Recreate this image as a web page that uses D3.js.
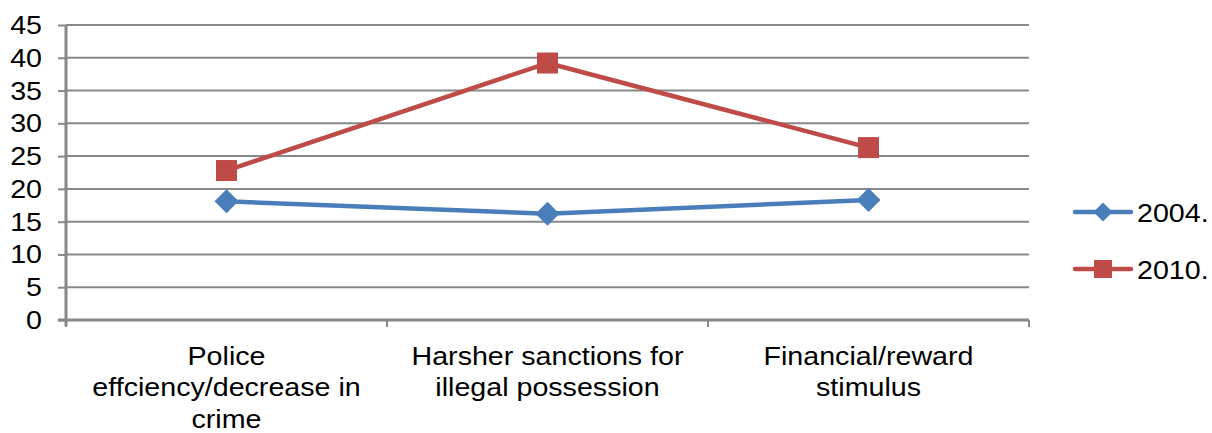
<!DOCTYPE html>
<html>
<head>
<meta charset="utf-8">
<script src="https://cdn.jsdelivr.net/npm/d3@7"></script>
<style>
  html, body { margin: 0; padding: 0; background: #fff; }
  svg text { font-family: "Liberation Sans", Arial, sans-serif; fill: #000; }
</style>
</head>
<body>
<svg id="chart" width="1212" height="433"></svg>
<script>
// Survey categories and per-year percentages
const categories = [
  ["Police", "effciency/decrease in", "crime"],
  ["Harsher sanctions for", "illegal possession"],
  ["Financial/reward", "stimulus"]
];
const years = ["2004.", "2010."];
const values2004 = [18.1, 16.2, 18.3];
const values2010 = [22.8, 39.2, 26.3];
const yTicks = [0, 5, 10, 15, 20, 25, 30, 35, 40, 45];

const colors = ["#4A7EBB", "#BE4B48"];
const series = [
  { name: years[0], values: values2004, color: colors[0], marker: "diamond" },
  { name: years[1], values: values2010, color: colors[1], marker: "square" }
];

const svg = d3.select("#chart");
const plotLeft = 66, plotRight = 1029, plotTop = 25, plotBottom = 320;
const fontSize = 26.5, stretch = 1.08;

const x = d3.scaleBand().domain(d3.range(categories.length)).range([plotLeft, plotRight]);
const y = d3.scaleLinear().domain([0, 45]).range([plotBottom, plotTop]);

// Horizontal gridlines
svg.append("g").selectAll("line").data(yTicks.filter(d => d > 0)).join("line")
  .attr("x1", plotLeft).attr("x2", plotRight)
  .attr("y1", d => y(d)).attr("y2", d => y(d))
  .attr("stroke", "#888").attr("stroke-width", 2);

// Y axis
const yAxis = svg.append("g").attr("transform", `translate(${plotLeft},0)`)
  .call(d3.axisLeft(y).tickValues(yTicks).tickSize(8).tickPadding(16));
yAxis.select(".domain").attr("stroke", "#888").attr("stroke-width", 3)
  .attr("d", `M0,${plotBottom + 6}V${plotTop}`);
yAxis.selectAll(".tick line").attr("stroke", "#888").attr("stroke-width", 2);
yAxis.selectAll(".tick text")
  .attr("font-size", fontSize).attr("fill", "#000")
  .attr("x", -24 / stretch)
  .attr("transform", `scale(${stretch},1)`)
  .style("font-family", '"Liberation Sans", Arial, sans-serif');

// X axis
svg.append("line").attr("x1", plotLeft - 8).attr("x2", plotRight)
  .attr("y1", plotBottom).attr("y2", plotBottom)
  .attr("stroke", "#888").attr("stroke-width", 3);
const xBounds = d3.range(categories.length + 1).map(i => plotLeft + i * x.bandwidth());
svg.append("g").selectAll("line").data(xBounds).join("line")
  .attr("x1", d => d).attr("x2", d => d)
  .attr("y1", plotBottom).attr("y2", plotBottom + 7)
  .attr("stroke", "#888").attr("stroke-width", 2);

// Category labels (multi-line)
const cx = i => x(i) + x.bandwidth() / 2;
const catG = svg.append("g");
categories.forEach((lines, i) => {
  const t = catG.append("text")
    .attr("transform", `translate(${cx(i)},365) scale(${stretch},1)`)
    .attr("text-anchor", "middle")
    .attr("font-size", fontSize);
  lines.forEach((ln, j) => {
    t.append("tspan").attr("x", 0).attr("dy", j === 0 ? 0 : 31.5).text(ln);
  });
});

const line = d3.line().x((d, i) => cx(i)).y(d => y(d));

function drawMarker(g, type, color, px, py, s) {
  if (type === "square") {
    g.append("rect").attr("x", px - s / 2).attr("y", py - s / 2)
      .attr("width", s).attr("height", s).attr("fill", color);
  } else {
    const h = s / 2;
    g.append("path")
      .attr("d", `M${px},${py - h}L${px + h},${py}L${px},${py + h}L${px - h},${py}Z`)
      .attr("fill", color);
  }
}

series.forEach(s => {
  const g = svg.append("g");
  g.append("path").datum(s.values).attr("d", line)
    .attr("fill", "none").attr("stroke", s.color)
    .attr("stroke-width", 4.5).attr("stroke-linejoin", "round");
  s.values.forEach((v, i) => drawMarker(g, s.marker, s.color, cx(i), y(v),
    s.marker === "square" ? 21 : 24));
});

// Legend
const legend = svg.append("g");
series.forEach((s, i) => {
  const ly = 212 + i * 57;
  legend.append("line").attr("x1", 1075).attr("x2", 1131)
    .attr("y1", ly).attr("y2", ly)
    .attr("stroke", s.color).attr("stroke-width", 4.5).attr("stroke-linecap", "round");
  drawMarker(legend, s.marker, s.color, 1103, ly, s.marker === "square" ? 18 : 19);
  legend.append("text")
    .attr("transform", `translate(1137,${ly + 10}) scale(${stretch},1)`)
    .attr("font-size", fontSize).text(s.name);
});
</script>
</body>
</html>
